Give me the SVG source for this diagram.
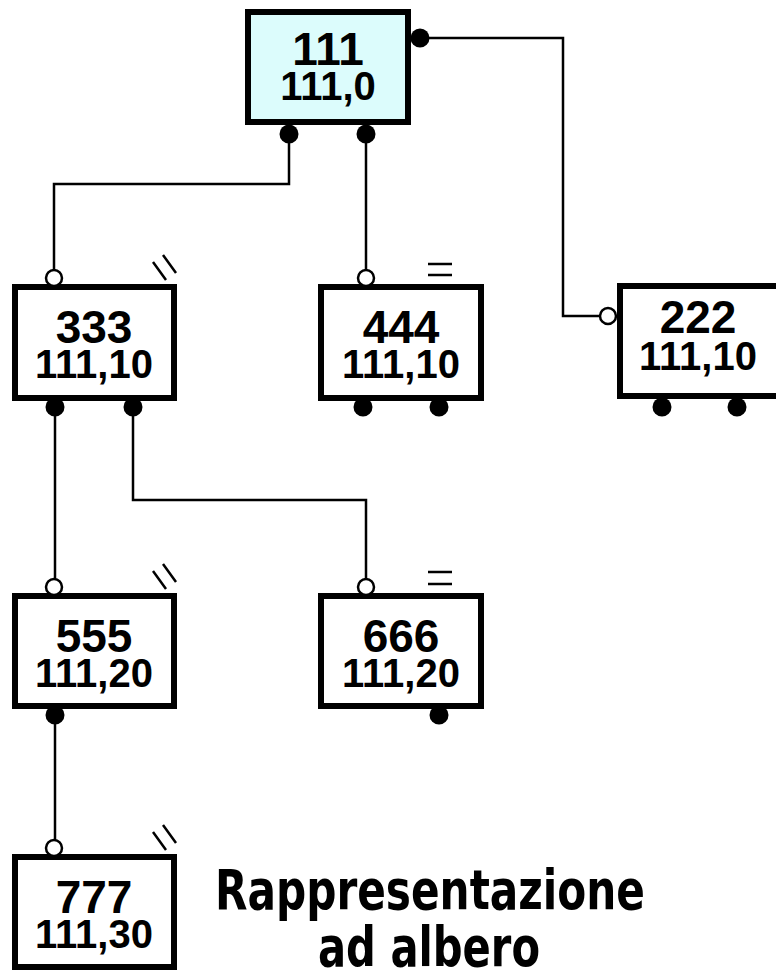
<svg xmlns="http://www.w3.org/2000/svg" width="776" height="971" viewBox="0 0 776 971">
<style>
.box{fill:#fff;stroke:#000;stroke-width:6}
.root{fill:#dcfcfc}
.t1{font-family:"Liberation Sans",Arial,sans-serif;font-weight:bold;font-size:46px;text-anchor:middle;fill:#000}
.t2{font-family:"Liberation Sans",Arial,sans-serif;font-weight:bold;font-size:40px;text-anchor:middle;fill:#000}
.dot{fill:#000}
.hol{fill:#fff;stroke:#000;stroke-width:2.5}
.mk{stroke:#000;stroke-width:2.5;fill:none}
.wire{stroke:#000;stroke-width:2.5;fill:none}
.title{font-family:"DejaVu Sans",Verdana,sans-serif;font-weight:bold;font-size:56px;text-anchor:middle;fill:#000}
</style>
<g id="connectors">
<polyline class="wire" points="420,38 563,38 563,316 600,316"/>
<polyline class="wire" points="289,134 289,184 54,184 54,270"/>
<polyline class="wire" points="366,134 366,270"/>
<polyline class="wire" points="55,407 55,579"/>
<polyline class="wire" points="133,407 133,500 366,500 366,579"/>
<polyline class="wire" points="55,715 55,840"/>
</g>
<g id="n111">
<rect class="box root" x="248" y="12" width="160" height="110"/>
<text class="t1" x="328" y="65">111</text>
<text class="t2" x="328" y="100">111,0</text>
<circle class="dot" cx="289" cy="134" r="9.5"/>
<circle class="dot" cx="366" cy="134" r="9.5"/>
<circle class="dot" cx="420" cy="38" r="9.5"/>
</g>
<g id="n333">
<rect class="box" x="15" y="287" width="159" height="111"/>
<text class="t1" x="94" y="343">333</text>
<text class="t2" x="94" y="378">111,10</text>
<circle class="hol" cx="54" cy="278" r="8"/>
<circle class="dot" cx="55" cy="407" r="9.5"/>
<circle class="dot" cx="133" cy="407" r="9.5"/>
<path class="mk" d="M153,262 L166,280 M163,255 L176,273"/>
</g>
<g id="n444">
<rect class="box" x="321" y="287" width="160" height="111"/>
<text class="t1" x="401" y="343">444</text>
<text class="t2" x="401" y="378">111,10</text>
<circle class="hol" cx="366" cy="278" r="8"/>
<circle class="dot" cx="363" cy="407" r="9.5"/>
<circle class="dot" cx="439" cy="407" r="9.5"/>
<path class="mk" d="M428,264 H452 M428,275 H452"/>
</g>
<g id="n222">
<rect class="box" x="620" y="286" width="160" height="110"/>
<text class="t1" x="698" y="333">222</text>
<text class="t2" x="698" y="370">111,10</text>
<circle class="hol" cx="608" cy="316" r="8"/>
<circle class="dot" cx="662" cy="407" r="9.5"/>
<circle class="dot" cx="737" cy="407" r="9.5"/>
</g>
<g id="n555">
<rect class="box" x="15" y="596" width="159" height="110"/>
<text class="t1" x="94" y="652">555</text>
<text class="t2" x="94" y="687">111,20</text>
<circle class="hol" cx="54" cy="587" r="8"/>
<circle class="dot" cx="55" cy="715" r="9.5"/>
<path class="mk" d="M153,571 L166,589 M163,564 L176,582"/>
</g>
<g id="n666">
<rect class="box" x="321" y="596" width="160" height="110"/>
<text class="t1" x="401" y="652">666</text>
<text class="t2" x="401" y="687">111,20</text>
<circle class="hol" cx="366" cy="587" r="8"/>
<circle class="dot" cx="439" cy="715" r="9.5"/>
<path class="mk" d="M428,572 H452 M428,584 H452"/>
</g>
<g id="n777">
<rect class="box" x="15" y="857" width="159" height="110"/>
<text class="t1" x="94" y="913">777</text>
<text class="t2" x="94" y="948">111,30</text>
<circle class="hol" cx="54" cy="848" r="8"/>
<path class="mk" d="M153,832 L166,850 M163,825 L176,843"/>
</g>
<g id="title">
<text class="title" x="430" y="909" textLength="430" lengthAdjust="spacingAndGlyphs">Rappresentazione</text>
<text class="title" x="429" y="966" textLength="222" lengthAdjust="spacingAndGlyphs">ad albero</text>
</g>
</svg>
